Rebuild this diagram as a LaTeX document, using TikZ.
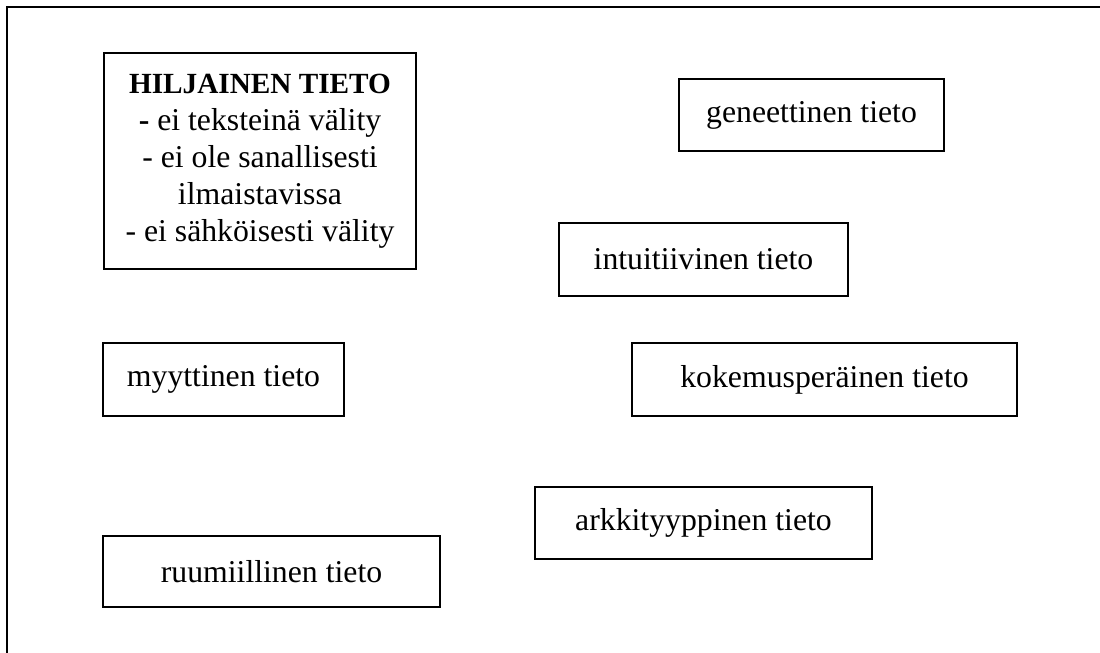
\documentclass[tikz,border=0pt]{standalone}
\usepackage{fontspec}
\setmainfont{Liberation Serif}

\begin{document}
\begin{tikzpicture}[x=0.4pt, y=-0.4pt,
    tietobox/.style={draw, line width=0.8pt, inner sep=0pt, align=center,
        font=\fontsize{12.7}{14.8}\selectfont}]
        \useasboundingbox (0,0) rectangle (1100,653);

        % Open frame, top and left edges only
        \coordinate (frame-corner) at (6.5,6.5);
        \draw[line width=0.8pt] (1100,6.5) -- (frame-corner) -- (6.5,653);

        % Tacit knowledge box with its bullet lines
        \node[tietobox, minimum width=124.8pt, minimum height=86.4pt] (hiljainen) at (260,161)
            {{\fontsize{11.7}{14.8}\selectfont\textbf{HILJAINEN TIETO}}\\ \textbf{-} ei teksteinä välity\\ - ei ole sanallisesti\\ ilmaistavissa\\ - ei sähköisesti välity};

        % Kinds of knowledge, left column
        \node[tietobox, minimum width=96.4pt, minimum height=29.2pt] (myyttinen) at (223.5,379.5) {myyttinen tieto};
        \node[tietobox, minimum width=134.8pt, minimum height=28.4pt] (ruumiillinen) at (271.5,571.5) {ruumiillinen tieto};

        % Kinds of knowledge, right column
        \node[tietobox, minimum width=106pt, minimum height=28.8pt] (geneettinen) at (811.5,115) {geneettinen tieto};
        \node[tietobox, minimum width=115.6pt, minimum height=29.2pt] (intuitiivinen) at (703.5,259.5) {intuitiivinen tieto};
        \node[tietobox, minimum width=154pt, minimum height=29.2pt] (kokemusperainen) at (824.5,379.5) {kokemusperäinen tieto};
        \node[tietobox, minimum width=134.8pt, minimum height=28.8pt] (arkkityyppinen) at (703.5,523) {arkkityyppinen tieto};
\end{tikzpicture}
\end{document}
